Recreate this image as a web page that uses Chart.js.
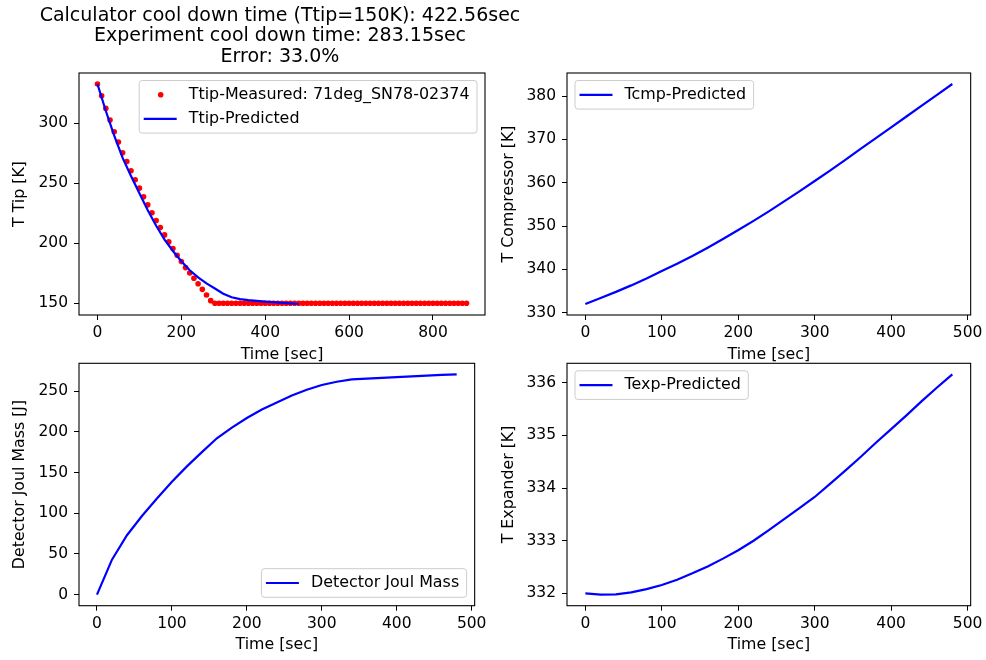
<!DOCTYPE html>
<html>
<head>
<meta charset="utf-8">
<script src="https://cdn.jsdelivr.net/npm/chart.js@4.4.0/dist/chart.umd.min.js"></script>
<style>
    body { margin: 0; background: #fff; width: 986px; height: 660px; position: relative; overflow: hidden; }
    canvas { position: absolute; }
</style>
</head>
<body>
<canvas id="tipChart" width="560" height="370" style="left:0;top:0"></canvas>
<canvas id="cmpChart" width="496" height="370" style="left:490px;top:0"></canvas>
<canvas id="joulChart" width="490" height="320" style="left:0;top:340px"></canvas>
<canvas id="expChart" width="496" height="320" style="left:490px;top:340px"></canvas>
<script>
const titleLines = [
    'Calculator cool down time (Ttip=150K): 422.56sec',
    'Experiment cool down time: 283.15sec',
    'Error: 33.0%'
];

// measured tip temperature, every 10 sec
const timeMeasured = [0, 10, 20, 30, 40, 50, 60, 70, 80, 90, 100, 110, 120, 130, 140, 150, 160, 170, 180, 190,
    200, 210, 220, 230, 240, 250, 260, 270, 280, 290, 300, 310, 320, 330, 340, 350, 360, 370, 380, 390,
    400, 410, 420, 430, 440, 450, 460, 470, 480, 490, 500, 510, 520, 530, 540, 550, 560, 570, 580, 590,
    600, 610, 620, 630, 640, 650, 660, 670, 680, 690, 700, 710, 720, 730, 740, 750, 760, 770, 780, 790,
    800, 810, 820, 830, 840, 850, 860, 870, 880];
const ttipMeasured = [332.5, 322.7, 312.2, 302.5, 292.7, 284.2, 275.2, 268, 260.3, 252.8, 245.8, 238.6, 231.9, 225.3,
    218.9, 213, 206.9, 201.1, 195.5, 190, 184.7, 179.7, 175.2, 170.8, 166.3, 161.6, 156.9, 152.2,
    150, 150, 150, 150, 150, 150, 150, 150, 150, 150, 150, 150, 150, 150, 150, 150, 150, 150, 150, 150,
    150, 150, 150, 150, 150, 150, 150, 150, 150, 150, 150, 150, 150, 150, 150, 150, 150, 150, 150, 150,
    150, 150, 150, 150, 150, 150, 150, 150, 150, 150, 150, 150, 150, 150, 150, 150, 150, 150, 150, 150, 150];

// model outputs, every 20 sec
const timePredicted = [0, 20, 40, 60, 80, 100, 120, 140, 160, 180, 200, 220, 240, 260, 280, 300, 320, 340, 360, 380, 400, 420, 440, 460, 480];
const ttipPredicted = [332.5, 310, 289.5, 271, 256, 241.5, 227.5, 214.5, 203, 193.5, 185, 177.5, 171.5, 166.5, 162.3,
    158, 155, 153.4, 152.6, 152, 151.4, 150.9, 150.4, 149.9, 149.4];
const tcmpPredicted = [332, 333.4, 334.8, 336.3, 337.9, 339.6, 341.3, 343.1, 345, 347, 349.1, 351.2, 353.4, 355.7,
    358, 360.4, 362.8, 365.3, 367.8, 370.3, 372.8, 375.3, 377.8, 380.3, 382.8];
const joulMass = [0, 43, 73, 96.5, 118, 138.5, 157.5, 175, 192, 205, 216.8, 227.2, 236, 244.5, 251.5, 257.4, 261.4,
    264.3, 265.3, 266.2, 267, 267.9, 268.8, 269.7, 270.5];
const texpPredicted = [332.0, 331.975, 331.98, 332.02, 332.08, 332.16, 332.26, 332.38, 332.51, 332.66, 332.82, 333.0,
    333.2, 333.41, 333.62, 333.83, 334.08, 334.33, 334.59, 334.86, 335.12, 335.38, 335.65, 335.91, 336.16];

const tipXTicks = [0, 200, 400, 600, 800];
const tipYTicks = [150, 200, 250, 300];
const timeTicks = [0, 100, 200, 300, 400, 500];
const cmpYTicks = [330, 340, 350, 360, 370, 380];
const joulYTicks = [0, 50, 100, 150, 200, 250];
const expYTicks = [332, 333, 334, 335, 336];

const FONT = 'DejaVu Sans';
const pts = (xs, ys) => xs.map((x, i) => ({ x: x, y: ys[i] }));

// matplotlib style autoscale: 5% margin around the data
function padRange(arrays) {
    const all = [].concat(...arrays);
    const lo = Math.min(...all), hi = Math.max(...all);
    const m = (hi - lo) * 0.05;
    return [lo - m, hi + m];
}

// full box around the plot area
const spines = {
    id: 'spines',
    afterDatasetsDraw(chart) {
        const { ctx, chartArea: a } = chart;
        ctx.save();
        ctx.strokeStyle = '#000';
        ctx.lineWidth = 1.1;
        ctx.strokeRect(a.left, a.top, a.right - a.left, a.bottom - a.top);
        ctx.restore();
    }
};

// multi-line title centred on the plot area (no squeezing to the box width)
const axesTitle = {
    id: 'axesTitle',
    afterDraw(chart, args, opts) {
        if (!opts.lines) return;
        const { ctx, chartArea: a } = chart;
        ctx.save();
        ctx.font = '19px "' + FONT + '"';
        ctx.fillStyle = '#000';
        ctx.textAlign = 'center';
        ctx.textBaseline = 'middle';
        opts.lines.forEach((t, i) => ctx.fillText(t, (a.left + a.right) / 2 - 2, 16.2 + i * 20.3));
        ctx.restore();
    }
};

// legend inside the axes, like matplotlib
const boxLegend = {
    id: 'boxLegend',
    afterDraw(chart, args, opts) {
        const { ctx, chartArea: a } = chart;
        const items = chart.data.datasets;
        ctx.save();
        ctx.font = '15.9px "' + FONT + '"';
        const textW = Math.max(...items.map(d => ctx.measureText(d.label).width));
        const w = 4.5 + 33 + 12 + textW + 7.5;
        const h = items.length * 24 + 4.6;
        const x = opts.corner.indexOf('right') >= 0 ? a.right - 8 - w : a.left + 8;
        const y = opts.corner.indexOf('lower') >= 0 ? a.bottom - 8.4 - h : a.top + 7.5;
        const r = 3;
        ctx.beginPath();
        ctx.moveTo(x + r, y);
        ctx.arcTo(x + w, y, x + w, y + h, r);
        ctx.arcTo(x + w, y + h, x, y + h, r);
        ctx.arcTo(x, y + h, x, y, r);
        ctx.arcTo(x, y, x + w, y, r);
        ctx.closePath();
        ctx.fillStyle = 'rgba(255,255,255,0.8)';
        ctx.fill();
        ctx.strokeStyle = '#cccccc';
        ctx.lineWidth = 1;
        ctx.stroke();
        items.forEach((d, i) => {
            const cy = y + 14.3 + i * 24;
            const lx = x + 4.5;
            if (d.showLine) {
                ctx.strokeStyle = d.borderColor;
                ctx.lineWidth = d.borderWidth;
                ctx.beginPath();
                ctx.moveTo(lx, cy);
                ctx.lineTo(lx + 33, cy);
                ctx.stroke();
            } else {
                ctx.fillStyle = d.backgroundColor;
                ctx.beginPath();
                ctx.arc(lx + 17, cy, d.pointRadius, 0, Math.PI * 2);
                ctx.fill();
            }
            ctx.fillStyle = '#000';
            ctx.textBaseline = 'middle';
            ctx.fillText(d.label, lx + 45, cy);
        });
        ctx.restore();
    }
};

function axis(ticks, range, size, title, titlePad, horizontal) {
    return {
        type: 'linear',
        min: range[0],
        max: range[1],
        afterBuildTicks: s => { s.ticks = ticks.map(v => ({ value: v })); },
        afterFit: s => { if (horizontal) s.height = size; else s.width = size; },
        grid: { drawOnChartArea: false, tickLength: 5, tickColor: '#000', tickWidth: 1 },
        border: { display: false },
        ticks: {
            color: '#000',
            font: { family: FONT, size: 15.5 },
            padding: horizontal ? 3.5 : 6,
            maxRotation: 0,
            autoSkip: false
        },
        title: {
            display: true,
            text: title,
            color: '#000',
            font: { family: FONT, size: 15.8 },
            padding: horizontal ? { top: 0, bottom: 5.5 } : { top: titlePad, bottom: 0 }
        }
    };
}

function lineSet(label, xs, ys) {
    return {
        label: label,
        data: pts(xs, ys),
        showLine: true,
        borderColor: '#0000ff',
        borderWidth: 2.2,
        pointRadius: 0,
        tension: 0,
        order: 0
    };
}

function baseOptions(padding, scales, legendCorner) {
    return {
        responsive: false,
        animation: false,
        layout: { padding: padding },
        scales: scales,
        plugins: {
            legend: { display: false },
            tooltip: { enabled: false },
            boxLegend: { corner: legendCorner },
            axesTitle: {}
        }
    };
}

// Tip temperature (canvas is wider than the plot so the long title fits)
const tipX = padRange([timeMeasured]);
const tipY = padRange([ttipMeasured, ttipPredicted]);
const tipOptions = baseOptions({ left: 0, right: 75, top: 73, bottom: 0 }, {
    x: axis(tipXTicks, tipX, 55, 'Time [sec]', 0, true),
    y: axis(tipYTicks, tipY, 79, 'T Tip [K]', 10.5, false)
}, 'upper right');
tipOptions.plugins.axesTitle = { lines: titleLines };
new Chart(document.getElementById('tipChart'), {
    type: 'scatter',
    data: {
        datasets: [{
            label: 'Ttip-Measured: 71deg_SN78-02374',
            data: pts(timeMeasured, ttipMeasured),
            showLine: false,
            pointRadius: 2.8,
            pointBorderWidth: 0,
            backgroundColor: '#ff0000',
            borderColor: '#ff0000',
            order: 1
        }, lineSet('Ttip-Predicted', timePredicted, ttipPredicted)]
    },
    options: tipOptions,
    plugins: [spines, boxLegend, axesTitle]
});

// Compressor temperature
new Chart(document.getElementById('cmpChart'), {
    type: 'scatter',
    data: { datasets: [lineSet('Tcmp-Predicted', timePredicted, tcmpPredicted)] },
    options: baseOptions({ left: 0, right: 13, top: 73, bottom: 0 }, {
        x: axis(timeTicks, padRange([timePredicted]), 55, 'Time [sec]', 0, true),
        y: axis(cmpYTicks, padRange([tcmpPredicted]), 77, 'T Compressor [K]', 9, false)
    }, 'upper left'),
    plugins: [spines, boxLegend]
});

// Detector joule mass
new Chart(document.getElementById('joulChart'), {
    type: 'scatter',
    data: { datasets: [lineSet('Detector Joul Mass', timePredicted, joulMass)] },
    options: baseOptions({ left: 0, right: 5, top: 23.3, bottom: 0 }, {
        x: axis(timeTicks, padRange([timePredicted]), 54.3, 'Time [sec]', 0, true),
        y: axis(joulYTicks, padRange([joulMass]), 79, 'Detector Joul Mass [J]', 10.5, false)
    }, 'lower right'),
    plugins: [spines, boxLegend]
});

// Expander temperature
new Chart(document.getElementById('expChart'), {
    type: 'scatter',
    data: { datasets: [lineSet('Texp-Predicted', timePredicted, texpPredicted)] },
    options: baseOptions({ left: 0, right: 13, top: 23.3, bottom: 0 }, {
        x: axis(timeTicks, padRange([timePredicted]), 54.3, 'Time [sec]', 0, true),
        y: axis(expYTicks, padRange([texpPredicted]), 77, 'T Expander [K]', 9, false)
    }, 'upper left'),
    plugins: [spines, boxLegend]
});
</script>
</body>
</html>
